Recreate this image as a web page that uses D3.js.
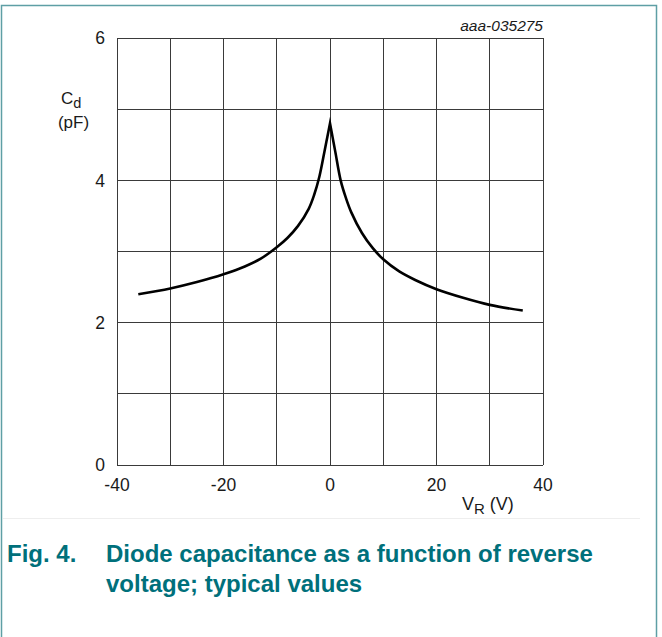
<!DOCTYPE html>
<html>
<head>
<meta charset="utf-8">
<script src="https://cdn.jsdelivr.net/npm/d3@7"></script>
<style>
  html, body { margin: 0; padding: 0; background: #fff; }
  svg { display: block; font-family: "Liberation Sans", Arial, sans-serif; }
</style>
</head>
<body>
<div class="chart"></div>
<script>
// reverse voltage (V) and diode capacitance (pF)
const vr = [-36, -30, -25, -20, -16, -13, -10, -8, -6, -4, -3, -2, -1, -0.5, 0,
  0.5, 1, 2, 3, 4, 6, 8, 10, 13, 16, 20, 25, 30, 36.2];
const cd = [2.40, 2.48, 2.57, 2.68, 2.79, 2.90, 3.06, 3.19, 3.36, 3.60, 3.79, 4.05, 4.42, 4.61, 4.80,
  4.60, 4.40, 4.00, 3.75, 3.55, 3.26, 3.05, 2.89, 2.72, 2.60, 2.47, 2.35, 2.25, 2.17];

const xTicks = [-40, -20, 0, 20, 40];
const yTicks = [0, 2, 4, 6];
const xGrid = d3.range(-40, 41, 10);
const yGrid = d3.range(0, 7, 1);

const captionNum = "Fig. 4.";
const captionLines = ["Diode capacitance as a function of reverse", "voltage; typical values"];
const figId = "aaa-035275";

const width = 662;
const height = 637;
const plot = { left: 117, right: 543, top: 38, bottom: 465 };
const teal = "#00707b";

const svg = d3
  .select(".chart")
  .append("svg")
  .attr("width", width)
  .attr("height", height);

// figure frame
svg
  .append("rect")
  .attr("x", 1.5)
  .attr("y", 5.5)
  .attr("width", 655)
  .attr("height", 700)
  .attr("fill", "none")
  .attr("stroke", "#5e9fa5")
  .attr("stroke-width", 1.5);

svg
  .append("line")
  .attr("x1", 3)
  .attr("x2", 640)
  .attr("y1", 518.5)
  .attr("y2", 518.5)
  .attr("stroke", "#eeeeee");

const x = d3.scaleLinear().domain([-40, 40]).range([plot.left, plot.right]);
const y = d3.scaleLinear().domain([0, 6]).range([plot.bottom, plot.top]);

// grid
const grid = svg.append("g").attr("shape-rendering", "crispEdges");
grid
  .selectAll("line.v")
  .data(xGrid)
  .join("line")
  .attr("class", "v")
  .attr("x1", (d) => x(d))
  .attr("x2", (d) => x(d))
  .attr("y1", plot.top)
  .attr("y2", plot.bottom)
  .attr("stroke", "#3a3a3a")
  .attr("stroke-width", 1);
grid
  .selectAll("line.h")
  .data(yGrid)
  .join("line")
  .attr("class", "h")
  .attr("x1", plot.left)
  .attr("x2", plot.right)
  .attr("y1", (d) => y(d))
  .attr("y2", (d) => y(d))
  .attr("stroke", "#3a3a3a")
  .attr("stroke-width", 1);

// tick labels
svg
  .append("g")
  .selectAll("text")
  .data(xTicks)
  .join("text")
  .attr("x", (d) => x(d))
  .attr("y", 490.5)
  .attr("text-anchor", "middle")
  .attr("font-size", 17.5)
  .attr("fill", "#1a1a1a")
  .text((d) => d);

svg
  .append("g")
  .selectAll("text")
  .data(yTicks)
  .join("text")
  .attr("x", 105)
  .attr("y", (d) => y(d) + 6.3)
  .attr("text-anchor", "end")
  .attr("font-size", 17.5)
  .attr("fill", "#1a1a1a")
  .text((d) => d);

// axis titles
const yTitle = svg.append("text").attr("font-size", 17).attr("fill", "#1a1a1a");
yTitle.append("tspan").attr("x", 61).attr("y", 103.5).text("C");
yTitle.append("tspan").attr("dy", 4).attr("font-size", 14.5).text("d");
svg
  .append("text")
  .attr("x", 73.5)
  .attr("y", 127.5)
  .attr("text-anchor", "middle")
  .attr("font-size", 17)
  .attr("fill", "#1a1a1a")
  .text("(pF)");

const xTitle = svg.append("text").attr("font-size", 18).attr("fill", "#1a1a1a");
xTitle.append("tspan").attr("x", 462).attr("y", 510).text("V");
xTitle.append("tspan").attr("dy", 4).attr("font-size", 15).text("R");
xTitle.append("tspan").attr("dy", -4).text(" (V)");

svg
  .append("text")
  .attr("x", plot.right)
  .attr("y", 31)
  .attr("text-anchor", "end")
  .attr("font-size", 15.5)
  .attr("font-style", "italic")
  .attr("fill", "#1a1a1a")
  .text(figId);

// curve: two smooth branches joined at the cusp at 0 V, drawn as one path
const pts = vr.map((v, i) => [v, cd[i]]);
const line = d3
  .line()
  .x((d) => x(d[0]))
  .y((d) => y(d[1]))
  .curve(d3.curveCatmullRom.alpha(0.5));

const leftPath = line(pts.filter((d) => d[0] <= 0));
const rightPath = line(pts.filter((d) => d[0] >= 0)).replace(/^M[^A-Za-z]*/, "");

svg
  .append("path")
  .attr("d", leftPath + rightPath)
  .attr("fill", "none")
  .attr("stroke", "#000")
  .attr("stroke-width", 2.6)
  .attr("stroke-linejoin", "miter")
  .attr("stroke-miterlimit", 10);

// caption
const cap = svg
  .append("g")
  .attr("font-weight", "bold")
  .attr("font-size", 24)
  .attr("fill", teal);
cap.append("text").attr("x", 7).attr("y", 561.5).text(captionNum);
cap
  .selectAll("text.line")
  .data(captionLines)
  .join("text")
  .attr("class", "line")
  .attr("x", 106)
  .attr("y", (d, i) => 561.5 + i * 30)
  .text((d) => d);
</script>
</body>
</html>
